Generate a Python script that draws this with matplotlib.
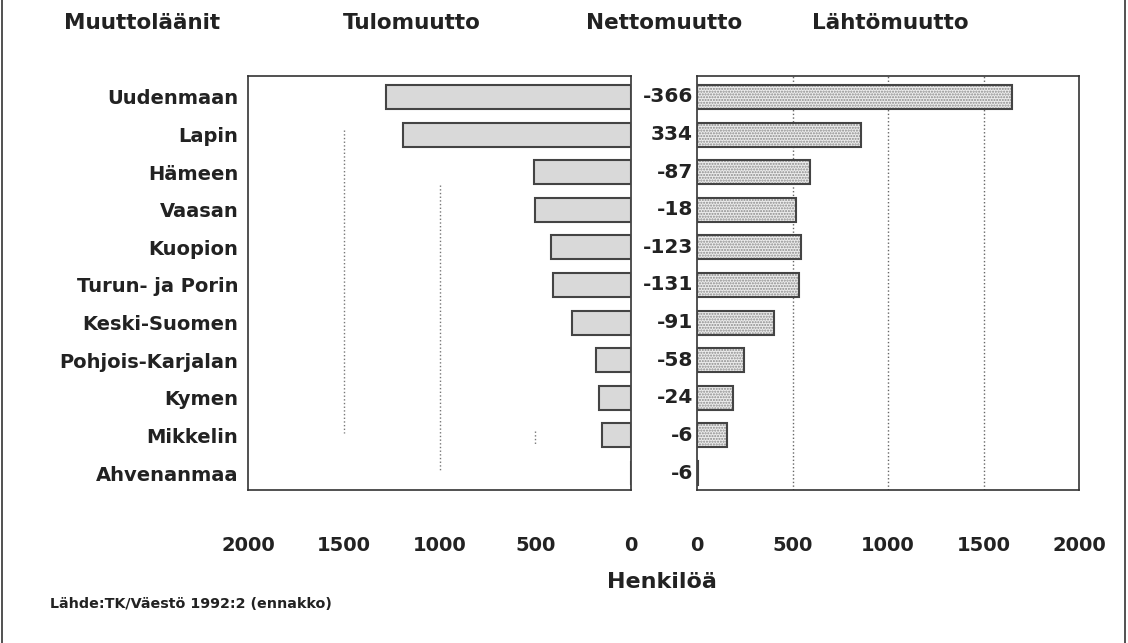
import matplotlib.pyplot as plt
from matplotlib.lines import Line2D
import numpy as np

regions = ['Uudenmaan', 'Lapin', 'Hämeen', 'Vaasan', 'Kuopion', 'Turun- ja Porin',
           'Keski-Suomen', 'Pohjois-Karjalan', 'Kymen', 'Mikkelin', 'Ahvenanmaa']
tulomuutto = [1280, 1190, 505, 500, 420, 405, 310, 185, 165, 150, 0]
lahtomuutto = [1646, 856, 592, 518, 543, 536, 401, 243, 189, 156, 6]
nettomuutto = ['-366', '334', '-87', '-18', '-123', '-131', '-91', '-58', '-24', '-6', '-6']
ticks = [0, 500, 1000, 1500, 2000]

plt.rcParams['font.family'] = 'DejaVu Sans'
plt.rcParams['font.weight'] = 'bold'
dark = '#333333'
txt = '#222222'

fig = plt.figure(figsize=(11.28, 6.43), dpi=100)
ax_l = fig.add_axes([0.2199, 0.238, 0.3395, 0.644])
ax_r = fig.add_axes([0.618, 0.238, 0.3387, 0.644])

y = np.arange(len(regions))
bar_h = 0.64

# Tulomuutto (left, reversed axis)
ax_l.barh(y, tulomuutto, height=bar_h, color='#d9d9d9', edgecolor='#444444', linewidth=1.5, zorder=3)
ax_l.set_xlim(2000, 0)
# faint, broken grid lines as in the scanned original
for x, y0, y1 in [(1500, 0.88, 8.94), (1000, 2.34, 9.92), (500, 8.88, 9.26)]:
    ax_l.vlines(x, y0, y1, colors='#777777', linestyles=':', linewidth=1, zorder=1)

# Lähtömuutto (right), stippled bars
ax_r.barh(y, lahtomuutto, height=bar_h, color='#ececec', edgecolor='#8a8a8a', hatch='......',
          linewidth=0, zorder=3)
ax_r.barh(y, lahtomuutto, height=bar_h, fill=False, edgecolor='#444444', linewidth=1.5, zorder=4)
ax_r.set_xlim(0, 2000)
for x in ticks[1:4]:
    ax_r.axvline(x, color='#666666', linestyle=':', linewidth=1, zorder=1)

for ax in (ax_l, ax_r):
    ax.set_ylim(10.45, -0.56)
    ax.set_xticks(ticks)
    ax.set_xticklabels([str(t) for t in ticks], fontsize=14, fontweight='bold', color=txt)
    ax.tick_params(axis='x', length=0, pad=33)
    for s in ax.spines.values():
        s.set_color(dark)
        s.set_linewidth(1.2)

ax_l.set_yticks(y)
ax_l.set_yticklabels(regions, fontsize=14, fontweight='bold', color=txt)
ax_l.tick_params(axis='y', length=0, pad=7)
ax_r.set_yticks([])

# Nettomuutto labels between the panels
for i, lab in enumerate(nettomuutto):
    ax_r.annotate(lab, xy=(0, i), xytext=(-3, 0), textcoords='offset points',
                  ha='right', va='center', fontsize=14.5, fontweight='bold', color=txt)

# headers
hdr = dict(fontsize=15.5, fontweight='bold', color=txt, va='center', ha='center')
fig.text(142 / 1128, 1 - 23 / 643, 'Muuttoläänit', **hdr)
fig.text(412 / 1128, 1 - 23 / 643, 'Tulomuutto', **hdr)
fig.text(664 / 1128, 1 - 23 / 643, 'Nettomuutto', **hdr)
fig.text(890 / 1128, 1 - 23 / 643, 'Lähtömuutto', **hdr)

fig.text(662 / 1128, 1 - 582 / 643, 'Henkilöä', fontsize=16, fontweight='bold',
         color=txt, ha='center', va='center')
fig.text(50 / 1128, 1 - 604 / 643, 'Lähde:TK/Väestö 1992:2 (ennakko)', fontsize=10.3,
         fontweight='bold', color=txt, ha='left', va='center')

# page frame lines
fig.add_artist(Line2D([2 / 1128, 2 / 1128], [0, 1], color=dark, linewidth=1.2))
fig.add_artist(Line2D([1125 / 1128, 1125 / 1128], [0, 1], color=dark, linewidth=1.2))

fig.savefig('out.png', dpi=100)
